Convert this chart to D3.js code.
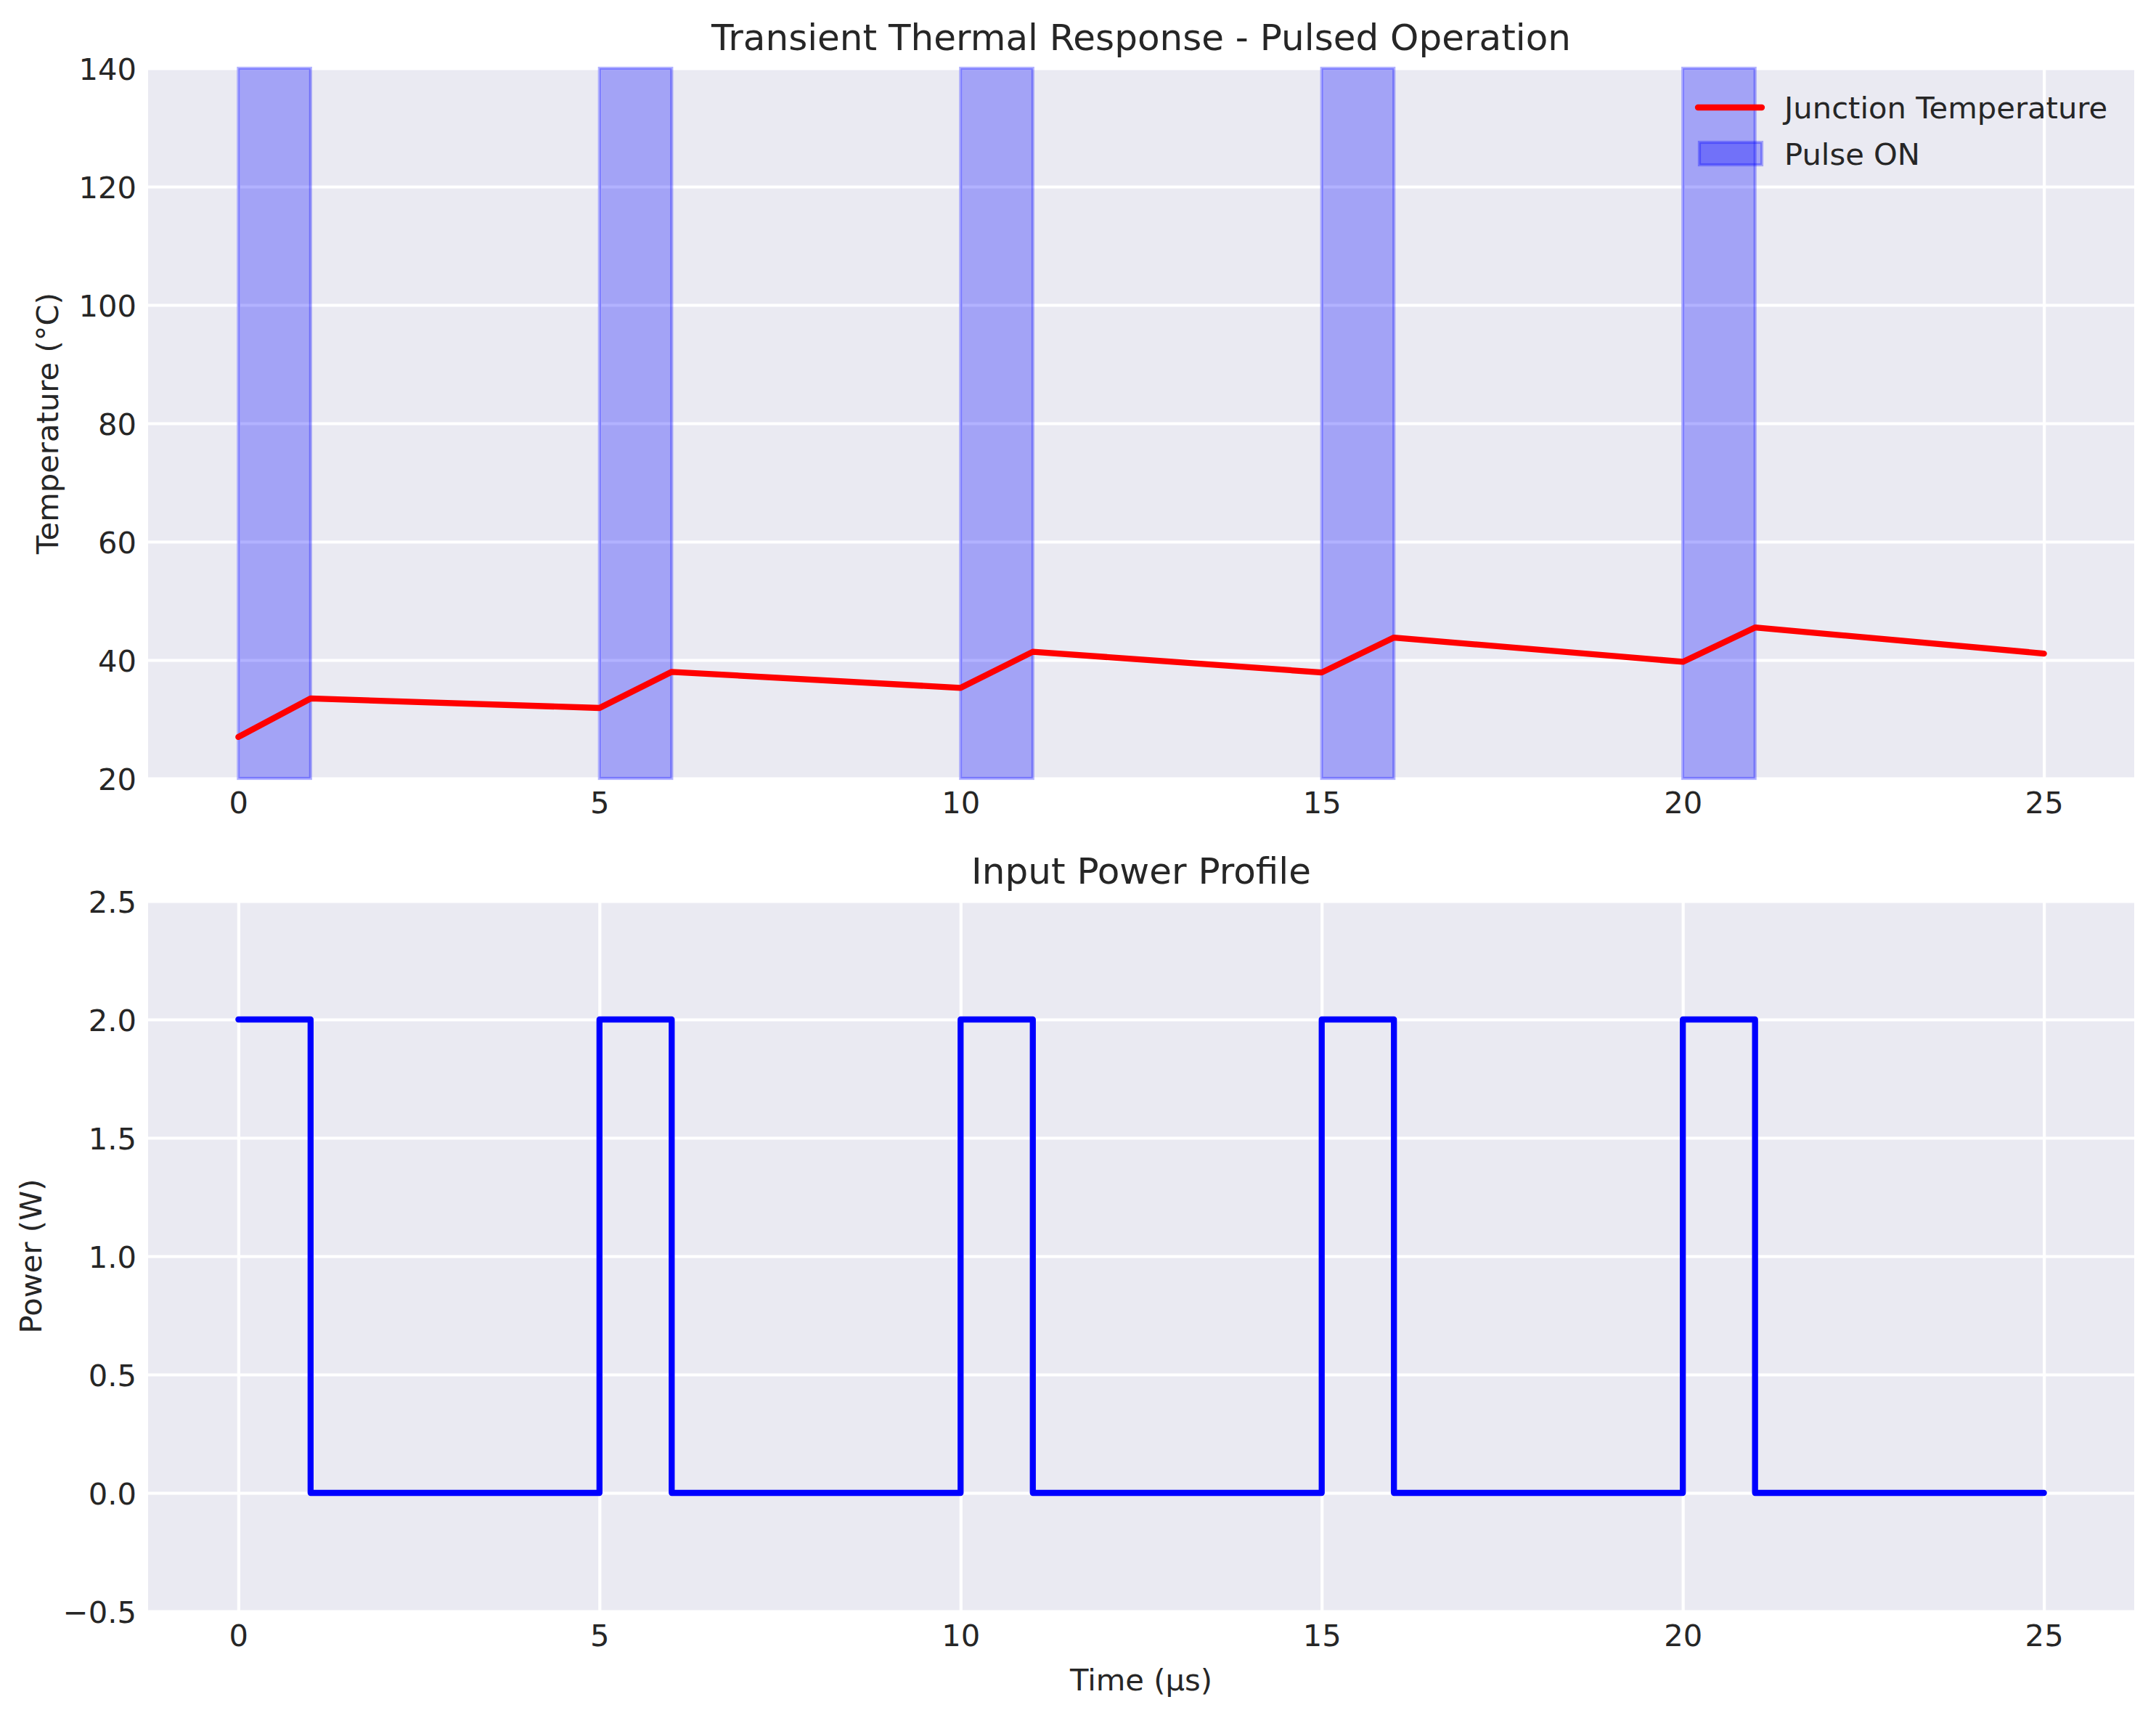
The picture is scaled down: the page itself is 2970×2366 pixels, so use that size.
<!DOCTYPE html>
<meta charset="utf-8">
<script src="https://d3js.org/d3.v7.min.js"></script>
<style>
body { margin: 0; background: #fff; }
text { font-family: "DejaVu Sans", sans-serif; fill: #262626; }
</style>
<div id="chart"></div>
<script>

// data
var timePts      = [0, 1, 5, 6, 10, 11, 15, 16, 20, 21, 25];
var junctionTemp = [27.0, 33.5, 31.9, 38.0, 35.3, 41.4, 37.9, 43.8, 39.7, 45.5, 41.1];
var powerW       = [2, 0, 2, 0, 2, 0, 2, 0, 2, 0, 0];
var pulseStart   = [0, 5, 10, 15, 20];
var pulseEnd     = [1, 6, 11, 16, 21];
var timeTicks    = [0, 5, 10, 15, 20, 25];
var tempTicks    = [20, 40, 60, 80, 100, 120, 140];
var powerTicks   = [-0.5, 0, 0.5, 1, 1.5, 2, 2.5];

var W = 2970, H = 2366;
var left = 204, right = 2940;
var tickFont = 41.7, labelFont = 41.7, titleFont = 50;

var svg = d3.select("#chart").append("svg")
  .attr("width", W).attr("height", H);

var x = d3.scaleLinear().domain([-1.25, 26.25]).range([left, right]);
var yT = d3.scaleLinear().domain([20, 140]).range([1072, 94]);
var yP = d3.scaleLinear().domain([-0.5, 2.5]).range([2219, 1241]);

// draws background, grid and tick labels of one panel
function panel(y, yTicks, yFmt) {
  var top = y.range()[1], bottom = y.range()[0];
  svg.append("rect")
    .attr("x", left).attr("y", top)
    .attr("width", right - left).attr("height", bottom - top)
    .attr("fill", "#eaeaf2");

  // grid
  svg.append("g")
    .attr("transform", "translate(0," + bottom + ")")
    .call(d3.axisBottom(x).tickValues(timeTicks).tickSize(-(bottom - top)).tickFormat(""))
    .call(function(g) {
      g.select(".domain").remove();
      g.selectAll("line").attr("stroke", "#fff").attr("stroke-width", 4.2);
    });
  svg.append("g")
    .attr("transform", "translate(" + left + ",0)")
    .call(d3.axisLeft(y).tickValues(yTicks).tickSize(-(right - left)).tickFormat(""))
    .call(function(g) {
      g.select(".domain").remove();
      g.selectAll("line").attr("stroke", "#fff").attr("stroke-width", 4.2);
    });

  // tick labels
  svg.append("g")
    .attr("transform", "translate(0," + bottom + ")")
    .call(d3.axisBottom(x).tickValues(timeTicks).tickSize(0).tickPadding(0).tickFormat(d3.format("d")))
    .call(function(g) {
      g.select(".domain").remove();
      g.selectAll("text").attr("font-size", tickFont).attr("dy", null).attr("y", 48)
        .attr("fill", "#262626").attr("font-family", "DejaVu Sans");
    });
  svg.append("g")
    .attr("transform", "translate(" + left + ",0)")
    .call(d3.axisLeft(y).tickValues(yTicks).tickSize(0).tickPadding(0).tickFormat(d3.format(yFmt)))
    .call(function(g) {
      g.select(".domain").remove();
      g.selectAll("text").attr("font-size", tickFont).attr("x", -16).attr("dy", "0.36em")
        .attr("fill", "#262626").attr("font-family", "DejaVu Sans");
    });
}

// ---------- top panel ----------
panel(yT, tempTicks, "d");

svg.append("g")
  .selectAll("rect")
  .data(pulseStart)
  .enter()
  .append("rect")
    .attr("x", function(d) { return x(d); })
    .attr("width", function(d, i) { return x(pulseEnd[i]) - x(d); })
    .attr("y", yT(140))
    .attr("height", yT(20) - yT(140))
    .attr("fill", "rgba(0,0,255,0.3)")
    .attr("stroke", "rgba(0,0,255,0.3)")
    .attr("stroke-width", 4.2);

var tempLine = d3.line()
  .x(function(d, i) { return x(timePts[i]); })
  .y(function(d) { return yT(d); });

svg.append("path")
  .datum(junctionTemp)
  .attr("d", tempLine)
  .attr("fill", "none")
  .attr("stroke", "red")
  .attr("stroke-width", 8.3)
  .attr("stroke-linejoin", "round")
  .attr("stroke-linecap", "round");

svg.append("text")
  .attr("x", (left + right) / 2).attr("y", 69)
  .attr("text-anchor", "middle")
  .attr("font-size", titleFont)
  .text("Transient Thermal Response - Pulsed Operation");

svg.append("text")
  .attr("transform", "translate(80," + (yT(80)) + ") rotate(-90)")
  .attr("text-anchor", "middle")
  .attr("font-size", labelFont)
  .text("Temperature (°C)");

// legend
svg.append("line")
  .attr("x1", 2339).attr("x2", 2427).attr("y1", 148).attr("y2", 148)
  .attr("stroke", "red").attr("stroke-width", 8.3).attr("stroke-linecap", "round");
svg.append("text")
  .attr("x", 2458).attr("y", 163)
  .attr("font-size", tickFont)
  .text("Junction Temperature");
svg.append("rect")
  .attr("x", 2341).attr("y", 196).attr("width", 86).attr("height", 31)
  .attr("fill", "rgba(0,0,255,0.3)")
  .attr("stroke", "rgba(0,0,255,0.3)")
  .attr("stroke-width", 4.2);
svg.append("text")
  .attr("x", 2458).attr("y", 227)
  .attr("font-size", tickFont)
  .text("Pulse ON");

// ---------- bottom panel ----------
panel(yP, powerTicks, ".1f");

var powerLine = d3.line()
  .curve(d3.curveStepAfter)
  .x(function(d, i) { return x(timePts[i]); })
  .y(function(d) { return yP(d); });

svg.append("path")
  .datum(powerW)
  .attr("d", powerLine)
  .attr("fill", "none")
  .attr("stroke", "blue")
  .attr("stroke-width", 8.3)
  .attr("stroke-linejoin", "round")
  .attr("stroke-linecap", "round");

svg.append("text")
  .attr("x", (left + right) / 2).attr("y", 1217)
  .attr("text-anchor", "middle")
  .attr("font-size", titleFont)
  .text("Input Power Profile");

svg.append("text")
  .attr("x", (left + right) / 2).attr("y", 2328)
  .attr("text-anchor", "middle")
  .attr("font-size", labelFont)
  .text("Time (µs)");

svg.append("text")
  .attr("transform", "translate(57," + (yP(1)) + ") rotate(-90)")
  .attr("text-anchor", "middle")
  .attr("font-size", labelFont)
  .text("Power (W)");

</script>
